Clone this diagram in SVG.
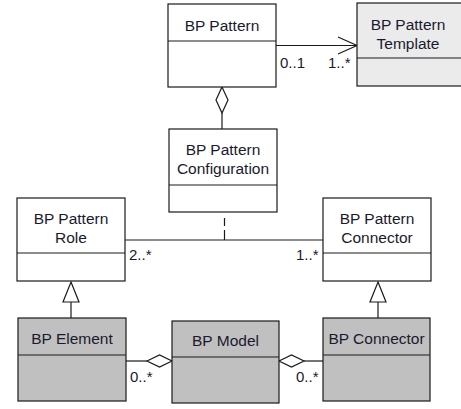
<svg xmlns="http://www.w3.org/2000/svg" width="461" height="409" viewBox="0 0 461 409">
<style>
.box{stroke:#1a1a1a;stroke-width:1.2;fill:#ffffff}
.lt{fill:#ebebeb}
.dk{fill:#c0c0c0}
.ln{stroke:#1a1a1a;stroke-width:1.2;fill:none}
text{font-family:"Liberation Sans",Arial,sans-serif;font-size:15.5px;fill:#1a1a2e}
.c{text-anchor:middle}
.m{font-size:15px}
</style>
<rect width="461" height="409" fill="#ffffff"/>
<g id="connectors">
  <line class="ln" x1="276" y1="45.5" x2="357" y2="45.5"/>
  <polyline class="ln" points="338,37 357,45.5 338,54"/>
  <polygon class="ln" style="fill:#fff" points="222,87 228,100 222,113 216,100"/>
  <line class="ln" x1="222" y1="113" x2="222" y2="129"/>
  <line class="ln" x1="125" y1="240" x2="323" y2="240"/>
  <line class="ln" x1="224.5" y1="218" x2="224.5" y2="226"/>
  <line class="ln" x1="224.5" y1="230" x2="224.5" y2="240"/>
  <polygon class="ln" style="fill:#fff" points="71,282 79,302 63,302"/>
  <line class="ln" x1="71" y1="302" x2="71" y2="318"/>
  <polygon class="ln" style="fill:#fff" points="378,282 386,302 370,302"/>
  <line class="ln" x1="378" y1="302" x2="378" y2="318"/>
  <line class="ln" x1="126" y1="361" x2="147" y2="361"/>
  <polygon class="ln" style="fill:#fff" points="147,361 159.5,355 172,361 159.5,367"/>
  <polygon class="ln" style="fill:#fff" points="279,361 291.5,355 304,361 291.5,367"/>
  <line class="ln" x1="304" y1="361" x2="323" y2="361"/>
  <text class="m" x="280" y="68">0..1</text>
  <text class="m" x="328" y="68">1..*</text>
  <text class="m" x="129" y="260">2..*</text>
  <text class="m" x="296" y="260">1..*</text>
  <text class="m" x="130" y="382">0..*</text>
  <text class="m" x="296" y="382">0..*</text>
</g>
<g id="bp-pattern">
  <rect class="box" x="168" y="4" width="108" height="83"/>
  <line class="ln" x1="168" y1="41" x2="276" y2="41"/>
  <text class="c" x="222" y="30.5">BP Pattern</text>
</g>
<g id="bp-pattern-template">
  <rect class="box lt" x="357" y="3" width="106" height="83"/>
  <line class="ln" x1="357" y1="58" x2="463" y2="58"/>
  <text class="c" x="408" y="30">BP Pattern</text>
  <text class="c" x="408" y="48.5">Template</text>
</g>
<g id="bp-pattern-configuration">
  <rect class="box" x="169" y="129" width="108" height="83"/>
  <line class="ln" x1="169" y1="185" x2="277" y2="185"/>
  <text class="c" x="223" y="155">BP Pattern</text>
  <text class="c" x="223" y="173.5">Configuration</text>
</g>
<g id="bp-pattern-role">
  <rect class="box" x="17" y="198" width="108" height="83"/>
  <line class="ln" x1="17" y1="253" x2="125" y2="253"/>
  <text class="c" x="71" y="224">BP Pattern</text>
  <text class="c" x="71" y="242.5">Role</text>
</g>
<g id="bp-pattern-connector">
  <rect class="box" x="323" y="198" width="108" height="83"/>
  <line class="ln" x1="323" y1="253" x2="431" y2="253"/>
  <text class="c" x="377" y="224">BP Pattern</text>
  <text class="c" x="377" y="242.5">Connector</text>
</g>
<g id="bp-element">
  <rect class="box dk" x="18" y="318" width="108" height="83"/>
  <line class="ln" x1="18" y1="355" x2="126" y2="355"/>
  <text class="c" x="72" y="344">BP Element</text>
</g>
<g id="bp-model">
  <rect class="box dk" x="172" y="321" width="107" height="82"/>
  <line class="ln" x1="172" y1="357" x2="279" y2="357"/>
  <text class="c" x="225.5" y="346">BP Model</text>
</g>
<g id="bp-connector">
  <rect class="box dk" x="323" y="318" width="107" height="83"/>
  <line class="ln" x1="323" y1="355" x2="430" y2="355"/>
  <text class="c" x="376.5" y="344">BP Connector</text>
</g>
</svg>
